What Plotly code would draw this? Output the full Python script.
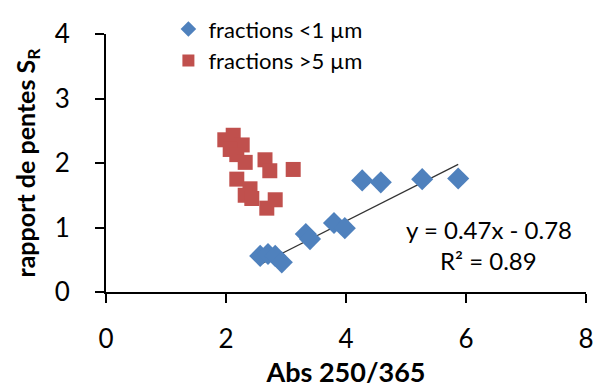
import plotly.graph_objects as go

# Data
x_fine = [2.57, 2.70, 2.82, 2.93, 3.33, 3.40, 3.80, 3.98, 4.27, 4.58, 5.27, 5.87]
y_fine = [0.56, 0.59, 0.56, 0.46, 0.90, 0.82, 1.07, 0.99, 1.73, 1.70, 1.75, 1.76]
x_coarse = [1.98, 2.12, 2.27, 2.07, 2.18, 2.32, 2.65, 2.73, 3.12, 2.18, 2.40, 2.32, 2.43, 2.82, 2.68]
y_coarse = [2.36, 2.43, 2.28, 2.21, 2.13, 2.01, 2.05, 1.88, 1.90, 1.75, 1.60, 1.50, 1.45, 1.43, 1.30]
slope, intercept = 0.47, -0.78
trend_x = [min(x_fine), max(x_fine)]
trend_y = [slope * v + intercept for v in trend_x]
eq_text = "y = 0.47x - 0.78"
r2_text = "R² = 0.89"

FONT = "Lato, 'Open Sans', sans-serif"

fig = go.Figure()
fig.add_trace(go.Scatter(x=trend_x, y=trend_y, mode="lines",
                         line=dict(color="#333333", width=1.2), showlegend=False))
fig.add_trace(go.Scatter(x=x_fine, y=y_fine, mode="markers", name="fractions <1 µm",
                         legendgroup="a",
                         marker=dict(symbol="diamond", size=17, color="#4F81BD")))
fig.add_trace(go.Scatter(x=x_coarse, y=y_coarse, mode="markers", name="fractions >5 µm",
                         legendgroup="b",
                         marker=dict(symbol="square", size=15, color="#C0504D")))

fig.add_annotation(x=6.38, y=0.97, xref="x", yref="y", text=eq_text, showarrow=False,
                   font=dict(family=FONT, size=24, color="black"))
fig.add_annotation(x=6.38, y=0.49, xref="x", yref="y", text=r2_text, showarrow=False,
                   font=dict(family=FONT, size=24, color="black"))

fig.update_layout(
    width=594, height=388,
    margin=dict(l=106, r=8, t=29, b=96),
    plot_bgcolor="white", paper_bgcolor="white",
    font=dict(family=FONT, size=26, color="black"),
    legend=dict(x=0.13, y=1.1, xanchor="left", yanchor="top",
                bgcolor="rgba(0,0,0,0)", font=dict(size=22),
                itemsizing="constant", tracegroupgap=0, traceorder="grouped"),
    xaxis=dict(range=[0, 8], tickvals=[0, 2, 4, 6, 8], showgrid=False, zeroline=False,
               showline=True, linecolor="black", linewidth=2, automargin=False,
               ticks="outside", ticklen=9, tickwidth=2, tickcolor="black",
               ticklabelposition="outside", ticklabelstandoff=14,
               title=dict(text="<b>Abs 250/365</b>", font=dict(size=27), standoff=14)),
    yaxis=dict(range=[0, 4], tickvals=[0, 1, 2, 3, 4], showgrid=False, zeroline=False,
               showline=True, linecolor="black", linewidth=2, automargin=False,
               ticks="outside", ticklen=9, tickwidth=2, tickcolor="black",
               ticklabelposition="outside", ticklabelstandoff=20,
               title=dict(text="<b>rapport de pentes S<sub>R</sub></b>", font=dict(size=25), standoff=12)),
)

fig.write_html("out.html")
